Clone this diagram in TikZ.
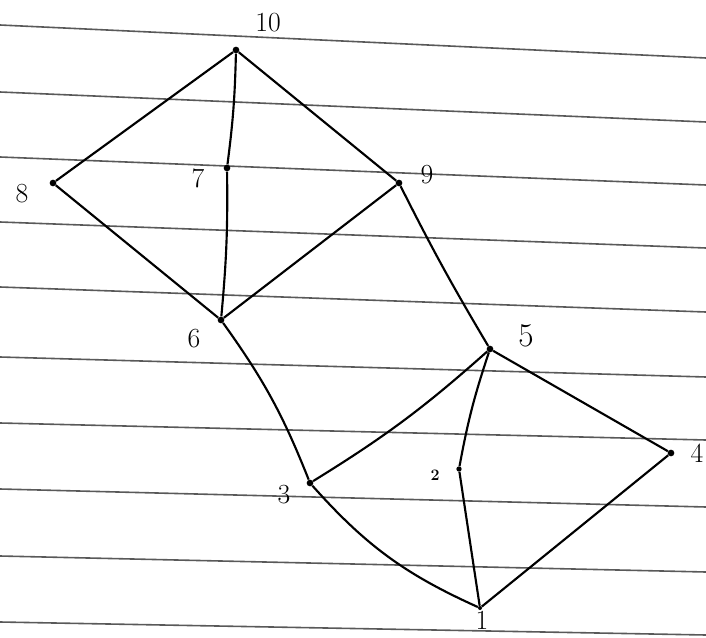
\documentclass[tikz,border=0pt]{standalone}
\begin{document}
\begin{tikzpicture}[x=0.75pt,y=0.75pt,
  vtx/.style={circle,fill=black,inner sep=0pt,minimum size=5pt},
  lbl/.style={inner sep=0pt,font=\huge},
  edge/.style={line width=1.6pt,black},
  rule/.style={line width=1.2pt,black!65}]
\useasboundingbox (0,0) rectangle (706,637);
% ruled paper lines
\foreach \a/\b in {612/579,545/515,480/452,415/389,350/325,280/260,214/197,148/130,81/65,15/2}
  \draw[rule] (0,\a) -- (706,\b);
% vertices
\node[vtx] (n10) at (236,587) {};
\node[vtx] (n7)  at (227,469) {};
\node[vtx] (n8)  at (53,454) {};
\node[vtx] (n9)  at (399,454) {};
\node[vtx] (n6)  at (221,317) {};
\node[vtx] (n5)  at (490,288) {};
\node[vtx] (n4)  at (671,184) {};
\node[vtx,minimum size=4pt] (n2)  at (459,168) {};
\node[vtx] (n3)  at (310,154) {};
\node[vtx,minimum size=3pt] (n1)  at (480,29) {};
% labels
\node[lbl] (l10) at (268,614) {10};
\node[lbl] (l7)  at (198,459) {7};
\node[lbl] (l8)  at (22,443) {8};
\node[lbl] (l9)  at (427,462) {9};
\node[lbl] (l6)  at (194,298) {6};
\node[lbl,font=\Huge] (l5)  at (526,301) {5};
\node[lbl] (l4)  at (697,184) {4};
\node[lbl,font=\large\bfseries] (l2)  at (435,162) {2};
\node[lbl] (l3)  at (284,142) {3};
\node[lbl] (l1)  at (482,17) {1};
% edges
\draw[edge] (n10) -- (n8);
\draw[edge] (n10) to[bend left=3] (n7);
\draw[edge] (n10) -- (n9);
\draw[edge] (n8) -- (n6);
\draw[edge] (n7) to[bend left=3] (n6);
\draw[edge] (n9) -- (n6);
\draw[edge] (n9) to[bend right=2] (n5);
\draw[edge] (n6) to[bend left=7] (n3);
\draw[edge] (n5) to[bend left=5] (n3);
\draw[edge] (n5) to[bend right=4] (n2);
\draw[edge] (n5) -- (n4);
\draw[edge] (n3) to[bend right=12] (n1);
\draw[edge] (n2) -- (n1);
\draw[edge] (n4) -- (n1);
\end{tikzpicture}
\end{document}
